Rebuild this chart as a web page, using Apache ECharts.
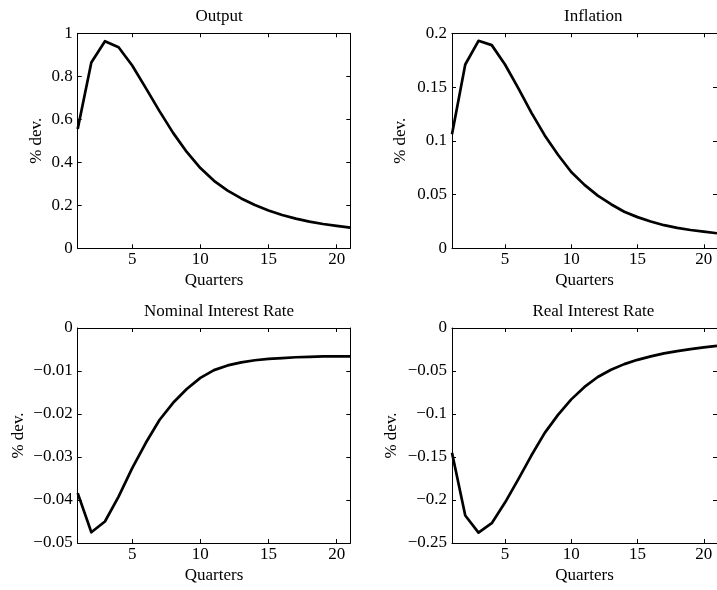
<!DOCTYPE html>
<html lang="en">
<head>
    <meta charset="UTF-8">
    <title>Impulse responses</title>
    <style>
        body {
            margin: 0;
            background: #fff;
        }
        #main {
            width: 717px;
            height: 590px;
        }
    </style>
</head>
<body>
    <div id="main"></div>
    <script src="https://cdn.jsdelivr.net/npm/echarts@6/dist/echarts.min.js"></script>
    <script>
        var quarters = [1, 2, 3, 4, 5, 6, 7, 8, 9, 10, 11, 12, 13, 14, 15, 16, 17, 18, 19, 20, 21]
        var xTicks = [5, 10, 15, 20]

        var output = [0.555, 0.864, 0.963, 0.935, 0.85, 0.745, 0.638, 0.537, 0.448, 0.373, 0.314,
            0.268, 0.232, 0.201, 0.176, 0.155, 0.138, 0.124, 0.113, 0.104, 0.096]
        var inflation = [0.106, 0.171, 0.193, 0.189, 0.171, 0.149, 0.126, 0.105, 0.087, 0.071, 0.059,
            0.049, 0.041, 0.034, 0.029, 0.025, 0.0215, 0.019, 0.017, 0.0155, 0.014]
        var nominal = [-0.0384, -0.0475, -0.045, -0.0392, -0.0326, -0.0267, -0.0214, -0.0174, -0.0142, -0.0116, -0.0098,
            -0.0087, -0.008, -0.0075, -0.0072, -0.007, -0.0068, -0.0067, -0.0066, -0.0066, -0.0066]
        var real = [-0.145, -0.218, -0.238, -0.227, -0.203, -0.176, -0.148, -0.122, -0.101, -0.083, -0.0685,
            -0.057, -0.0485, -0.042, -0.037, -0.033, -0.0295, -0.0268, -0.0245, -0.0225, -0.0208]

        var titles = ['Output', 'Inflation', 'Nominal Interest Rate', 'Real Interest Rate']
        var yMin = [0, 0, -0.05, -0.25]
        var yMax = [1, 0.2, 0, 0]
        var yStep = [0.2, 0.05, 0.01, 0.05]

        var font = 'Liberation Serif'
        var panels = [
            { left: 77.7, top: 33.3, nameGap: 33, data: output },
            { left: 452, top: 33.3, nameGap: 43, data: inflation },
            { left: 77.7, top: 328, nameGap: 51, data: nominal },
            { left: 452, top: 328, nameGap: 52, data: real }
        ]

        function fmt(v) {
            var s = String(parseFloat(v.toFixed(4)))
            return s.replace('-', '\u2212')
        }

        var grid = [], xAxis = [], yAxis = [], series = [], title = []
        panels.forEach(function(p, i) {
            grid.push({ left: p.left, top: p.top, width: 272.6, height: 215, containLabel: false })
            title.push({
                text: titles[i],
                left: p.left + 136.3,
                top: p.top - 30,
                textAlign: 'center',
                textStyle: { fontFamily: font, fontSize: 17, fontWeight: 'normal', color: '#000' }
            })
            var tick = { inside: true, length: 4, lineStyle: { color: '#000', width: 1 } }
            var line = { show: true, onZero: false, lineStyle: { color: '#000', width: 1 } }
            // bottom axis with labels
            xAxis.push({
                type: 'value', gridIndex: i, min: 1, max: 21, position: 'bottom',
                name: 'Quarters', nameLocation: 'middle', nameGap: 24,
                nameTextStyle: { fontFamily: font, fontSize: 17, color: '#000' },
                axisLine: line,
                axisTick: Object.assign({ customValues: xTicks }, tick),
                axisLabel: { customValues: xTicks, margin: 3, fontFamily: font, fontSize: 17, color: '#000' },
                splitLine: { show: false }
            })
            // top axis, ticks only
            xAxis.push({
                type: 'value', gridIndex: i, min: 1, max: 21, position: 'top',
                axisLine: line,
                axisTick: Object.assign({ customValues: xTicks }, tick),
                axisLabel: { show: false },
                splitLine: { show: false }
            })
            yAxis.push({
                type: 'value', gridIndex: i, min: yMin[i], max: yMax[i], interval: yStep[i], position: 'left',
                name: '% dev.', nameLocation: 'middle', nameGap: p.nameGap, nameRotate: 90,
                nameTextStyle: { fontFamily: font, fontSize: 17, color: '#000' },
                axisLine: line,
                axisTick: tick,
                axisLabel: { margin: 5, fontFamily: font, fontSize: 17, color: '#000', formatter: fmt },
                splitLine: { show: false }
            })
            yAxis.push({
                type: 'value', gridIndex: i, min: yMin[i], max: yMax[i], interval: yStep[i], position: 'right',
                axisLine: line,
                axisTick: tick,
                axisLabel: { show: false },
                splitLine: { show: false }
            })
            series.push({
                type: 'line',
                xAxisIndex: i * 2,
                yAxisIndex: i * 2,
                data: quarters.map(function(q, k) { return [q, p.data[k]] }),
                showSymbol: false,
                smooth: false,
                lineStyle: { color: '#000', width: 2.7, join: 'round' },
                animation: false
            })
        })

        var myChart = echarts.init(document.getElementById('main'))
        myChart.setOption({
            backgroundColor: '#fff',
            animation: false,
            title: title,
            grid: grid,
            xAxis: xAxis,
            yAxis: yAxis,
            series: series
        })
    </script>
</body>
</html>
